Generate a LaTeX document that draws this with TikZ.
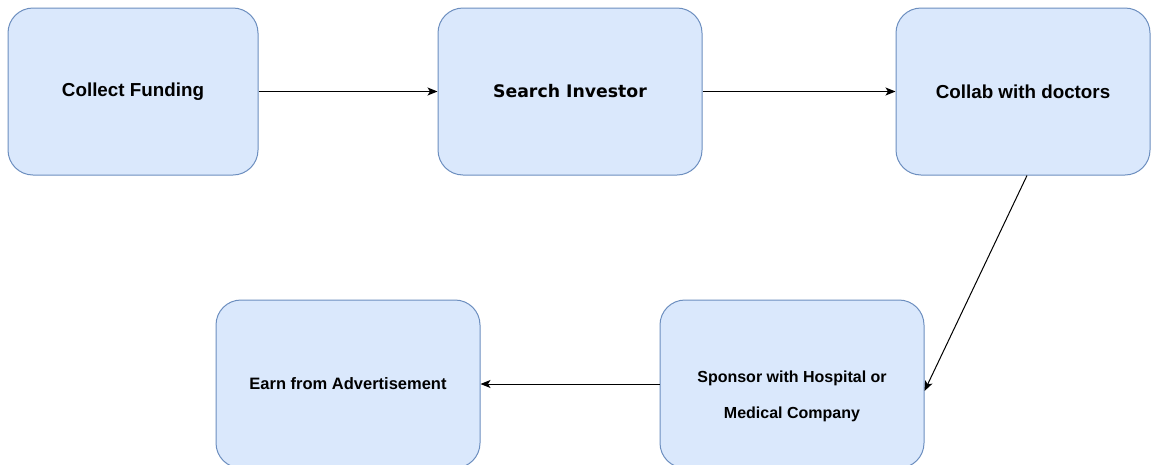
\documentclass[tikz,border=0pt]{standalone}
\usepackage{fontspec}
\setmainfont{Liberation Sans}
\newfontfamily\dvfont{DejaVu Sans}
\usetikzlibrary{arrows.meta}
\definecolor{boxfill}{HTML}{DAE8FC}
\definecolor{boxline}{HTML}{6C8EBF}
\tikzset{
  x=1pt, y=-1pt,
  flowbox/.style={draw=boxline, fill=boxfill, line width=1pt, rounded corners=25pt,
    minimum height=167pt, inner sep=0pt, align=center, font=\bfseries},
  flowarrow/.style={draw=black, line width=1pt, -{Stealth[length=10pt,width=8pt,inset=2.5pt]}}
}
\begin{document}
\begin{tikzpicture}
\useasboundingbox (0,0) rectangle (1157,464);
\node[flowbox, minimum width=250pt, font=\bfseries\fontsize{18.8}{22}\selectfont] (b1) at (133,91.5) {Collect Funding};
\node[flowbox, minimum width=264pt, font=\dvfont\bfseries\fontsize{17.3}{21}\selectfont] (b2) at (570,91.5) {Search Investor};
\node[flowbox, minimum width=254pt, font=\bfseries\fontsize{18.8}{22}\selectfont] (b3) at (1023,91.5) {Collab with doctors};
\node[flowbox, minimum width=264pt, minimum height=168pt, font=\bfseries\fontsize{16.5}{20}\selectfont] (b4) at (348,384) {Earn from Advertisement};
\node[flowbox, minimum width=264pt, minimum height=168pt, font=\bfseries\fontsize{16}{36}\selectfont] (b5) at (792,384) {\raisebox{-14pt}[0pt][0pt]{\begin{tabular}{@{}c@{}}Sponsor with Hospital or\\Medical Company\end{tabular}}};
\draw[flowarrow] (b1.east) -- (b2.west);
\draw[flowarrow] (b2.east) -- (b3.west);
\draw[flowarrow] ([xshift=4pt]b3.south) -- ([yshift=-7pt]b5.east);
\draw[flowarrow] (b5.west) -- (b4.east);
\end{tikzpicture}
\end{document}
